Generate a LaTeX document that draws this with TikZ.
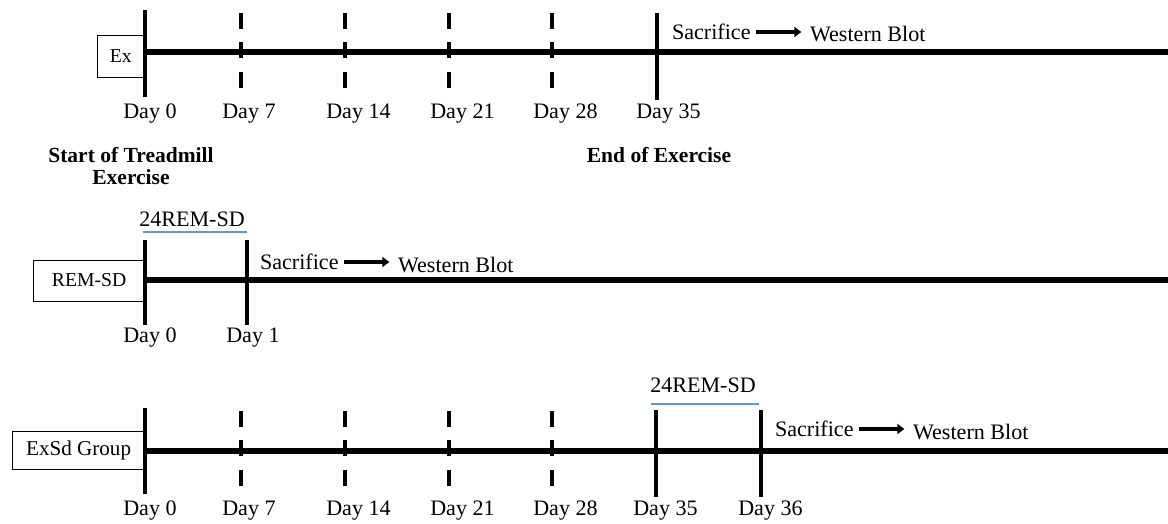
\documentclass[tikz,border=0pt]{standalone}
\usepackage{fontspec}
\setmainfont{Liberation Serif}
\usepackage{tikz}
\usetikzlibrary{arrows.meta,positioning}
\definecolor{ink}{HTML}{000000}
\definecolor{sdblue}{HTML}{5B9BD5}
\tikzset{
  timeline/.style={line width=4pt, color=ink},
  daytick/.style={line width=2.7pt, color=ink},
  dashtick/.style={line width=2.7pt, color=ink, dash pattern=on 11.3pt off 9.6pt},
  sdbar/.style={line width=2pt, color=sdblue},
  flowarrow/.style={-{Triangle[length=5pt, width=7pt]}, line width=2.6pt,
    shorten <=2pt, shorten >=4pt},
  groupbox/.style={rectangle, draw=ink, thin, fill=white, inner sep=2pt},
  daylabel/.style={anchor=west, inner sep=0pt, font=\fontsize{15.7}{18}\selectfont},
  steptext/.style={inner sep=2pt, font=\fontsize{15.7}{18}\selectfont},
  phasetext/.style={align=center, inner sep=0pt,
    font=\fontsize{15.3}{15.5}\selectfont\bfseries},
}
\begin{document}
\begin{tikzpicture}[x=0.025cm, y=-0.025cm]
\useasboundingbox (0,0) rectangle (1168,524);

% Ex group
\coordinate (ex-start) at (145,52);
\coordinate (ex-end) at (1168,52);
\node[groupbox, anchor=east, minimum width=34pt, minimum height=30pt,
  font=\fontsize{14}{16}\selectfont] (ex-box) at (145,56) {Ex};
\draw[timeline] (ex-start) -- (ex-end);
\draw[daytick] (145,10) -- (145,97);
\node[daylabel] (ex-d0) at (123,114) {Day 0};
\foreach \x/\d in {241/7,345/14,449/21,552/28}{
  \draw[dashtick] (\x,13) -- (\x,90);
  \node[daylabel] (ex-d\d) at (\x-19,114) {Day \d};
}
\draw[daytick] (657,13) -- (657,100);
\node[daylabel] (ex-d35) at (636,114) {Day 35};
\node[steptext, anchor=west] (ex-sac) at (669,32) {Sacrifice};
\node[steptext, anchor=west] (ex-wb) at (807,34) {Western Blot};
\draw[flowarrow] (ex-sac.east) -- (ex-sac.east -| ex-wb.west);
\node[phasetext] (ex-start-lbl) at (131,166) {Start of Treadmill\\Exercise};
\node[phasetext] (ex-end-lbl) at (659,155) {End of Exercise};

% REM-SD group
\coordinate (sd-start) at (145,280);
\coordinate (sd-end) at (1168,280);
\node[groupbox, anchor=east, minimum width=79pt, minimum height=29pt,
  font=\fontsize{14}{16}\selectfont] (sd-box) at (145,280.5) {REM-SD};
\draw[timeline] (sd-start) -- (sd-end);
\draw[daytick] (145,240) -- (145,325);
\draw[daytick] (247,240) -- (247,325);
\node[daylabel] (sd-d0) at (123,338) {Day 0};
\node[daylabel] (sd-d1) at (226,338) {Day 1};
\coordinate (sd-bar-a) at (143,232);
\coordinate (sd-bar-b) at (247,232);
\draw[sdbar] (sd-bar-a) -- (sd-bar-b);
\node[steptext] (sd-rem) at (192,219) {24REM-SD};
\node[steptext, anchor=west] (sd-sac) at (257,262) {Sacrifice};
\node[steptext, anchor=west] (sd-wb) at (395,265) {Western Blot};
\draw[flowarrow] (sd-sac.east) -- (sd-sac.east -| sd-wb.west);

% ExSd group
\coordinate (xs-start) at (145,451);
\coordinate (xs-end) at (1168,451);
\node[groupbox, anchor=east, minimum width=94pt, minimum height=27pt,
  font=\fontsize{15}{17}\selectfont] (xs-box) at (145,450) {ExSd Group};
\draw[timeline] (xs-start) -- (xs-end);
\draw[daytick] (145,408) -- (145,494);
\node[daylabel] (xs-d0) at (123,511) {Day 0};
\foreach \x/\d in {241/7,345/14,449/21,552/28}{
  \draw[dashtick] (\x,411) -- (\x,488);
  \node[daylabel] (xs-d\d) at (\x-19,511) {Day \d};
}
\draw[daytick] (656,410) -- (656,497);
\draw[daytick] (761,410) -- (761,497);
\node[daylabel] (xs-d35) at (633,511) {Day 35};
\node[daylabel] (xs-d36) at (738,511) {Day 36};
\coordinate (xs-bar-a) at (651,404);
\coordinate (xs-bar-b) at (759,404);
\draw[sdbar] (xs-bar-a) -- (xs-bar-b);
\node[steptext] (xs-rem) at (703,385) {24REM-SD};
\node[steptext, anchor=west] (xs-sac) at (772,429) {Sacrifice};
\node[steptext, anchor=west] (xs-wb) at (910,432) {Western Blot};
\draw[flowarrow] (xs-sac.east) -- (xs-sac.east -| xs-wb.west);
\end{tikzpicture}
\end{document}
